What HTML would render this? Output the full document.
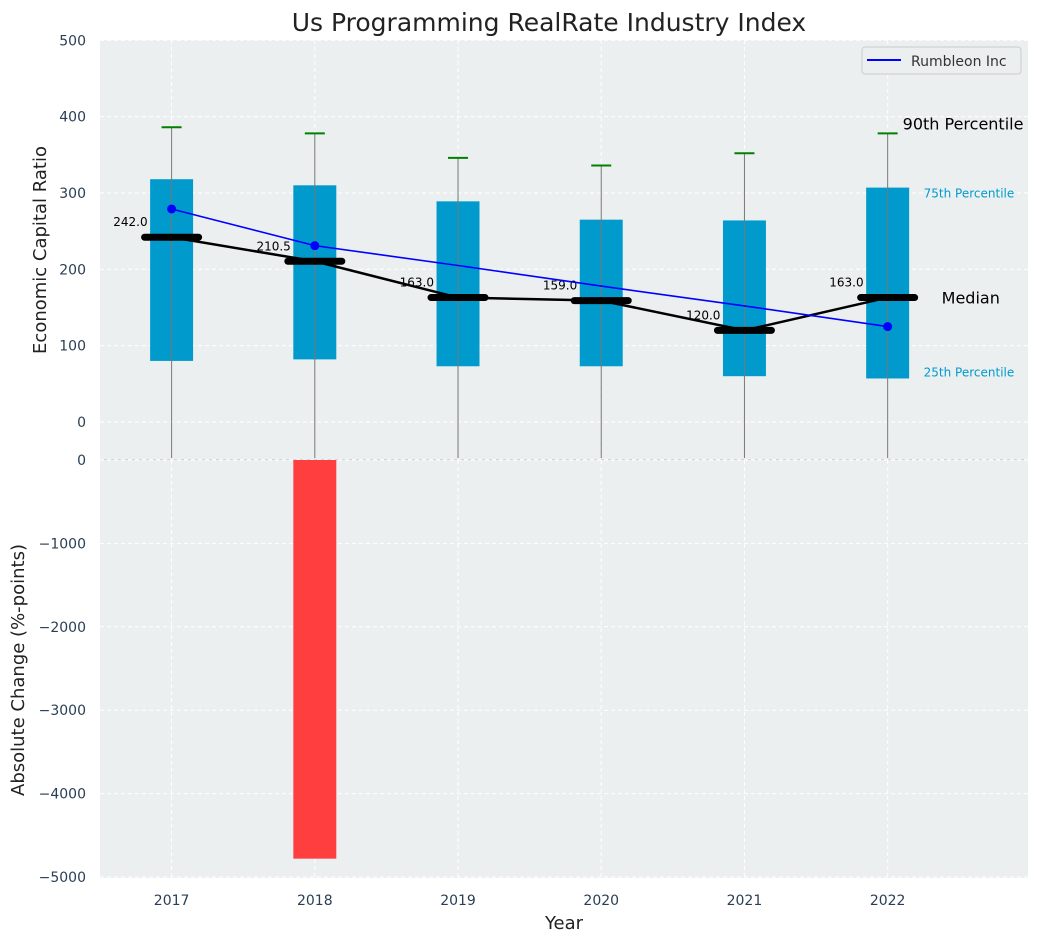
<!DOCTYPE html>
<html><head><meta charset="utf-8"><style>
body{margin:0;background:#fff;}
svg text{font-family:"DejaVu Sans","Liberation Sans",sans-serif;}
</style></head><body>
<svg id="c" width="1039" height="942" xmlns="http://www.w3.org/2000/svg">
<text x="549" y="31" font-size="25" text-anchor="middle" fill="#222">Us Programming RealRate Industry Index</text>
<g id="gtop"></g><g id="gbot"></g>
</svg>
<script>
const years=[2017,2018,2019,2020,2021,2022];
const q1=[80,82,73,73,60,57];
const q3=[318,310,289,265,264,307];
const p90=[386,378,346,336,352,378];
const medians=[242,210.5,163,159,120,163];
const company=[279,231,205,178,152,125];
const changes=[0,-4780,0,0,0,0];
const topTicks=[0,100,200,300,400,500];
const botTicks=[0,-1000,-2000,-3000,-4000,-5000];
const NS='http://www.w3.org/2000/svg';
const X0=100,X1=1028;
const xs=v=>X0+(v-2016.5)/(2022.98-2016.5)*(X1-X0);
const yt=v=>422-v*0.7635;
const yb=v=>460-v*0.0834;
function mk(p,t,a){const e=document.createElementNS(NS,t);for(const k in a)e.setAttribute(k,a[k]);p.appendChild(e);return e;}
const gTop=document.getElementById('gtop'),gBot=document.getElementById('gbot');
let r=mk(gTop,'rect',{x:X0,y:40,width:X1-X0,height:420,fill:'#ebeff0'});

r=mk(gBot,'rect',{x:X0,y:460,width:X1-X0,height:418,fill:'#ebeff0'});

years.forEach(y=>{
 mk(gTop,'line',{x1:xs(y),x2:xs(y),y1:40,y2:460,stroke:'#fff','stroke-dasharray':'4,3'});
 mk(gBot,'line',{x1:xs(y),x2:xs(y),y1:460,y2:878,stroke:'#fff','stroke-dasharray':'4,3'});
 const t=mk(gBot,'text',{x:xs(y),y:905,'font-size':14,'text-anchor':'middle',fill:'#2a3f55'});t.textContent=y;
 
});
topTicks.forEach(v=>{
 mk(gTop,'line',{x1:X0,x2:X1,y1:yt(v),y2:yt(v),stroke:'#fff','stroke-dasharray':'4,3'});
 const t=mk(gTop,'text',{x:86,y:yt(v)+5,'font-size':14,'text-anchor':'end',fill:'#2a3f55'});t.textContent=v;
 
});
botTicks.forEach(v=>{
 mk(gBot,'line',{x1:X0,x2:X1,y1:yb(v),y2:yb(v),stroke:'#fff','stroke-dasharray':'4,3'});
 const t=mk(gBot,'text',{x:86,y:yb(v)+5,'font-size':14,'text-anchor':'end',fill:'#2a3f55'});t.textContent=v===0?'0':'\u2212'+(-v);
 
});
mk(gTop,'line',{x1:X0,x2:X1,y1:460,y2:460,stroke:'#bbb'});
const bw=xs(2017.15)-xs(2017);
years.forEach((y,i)=>{
 const b=mk(gTop,'rect',{x:xs(y)-bw,y:yt(q3[i]),width:2*bw,height:yt(q1[i])-yt(q3[i]),fill:'#009acd'});
 
 const w=mk(gTop,'line',{x1:xs(y),x2:xs(y),y1:yt(p90[i]),y2:458,stroke:'#777','stroke-width':1});
 
 const c=mk(gTop,'line',{x1:xs(y)-10,x2:xs(y)+10,y1:yt(p90[i]),y2:yt(p90[i]),stroke:'green','stroke-width':2});
 
 const bar=mk(gBot,'rect',{x:xs(y)-bw,y:yb(Math.max(0,changes[i])),width:2*bw,height:Math.abs(yb(changes[i])-yb(0)),fill:'#ff3f3f'});
 
});
let pm=mk(gTop,'polyline',{points:years.map((y,i)=>xs(y)+','+yt(medians[i])).join(' '),fill:'none',stroke:'#000','stroke-width':2.5});

years.forEach((y,i)=>{
 const m=mk(gTop,'line',{x1:xs(y)-27,x2:xs(y)+27,y1:yt(medians[i]),y2:yt(medians[i]),stroke:'#000','stroke-width':7,'stroke-linecap':'round'});
 
 const t=mk(gTop,'text',{x:xs(y)-24,y:yt(medians[i])-11,'font-size':12,'text-anchor':'end',fill:'#000'});t.textContent=medians[i].toFixed(1);
 
});
let pc=mk(gTop,'polyline',{points:years.map((y,i)=>xs(y)+','+yt(company[i])).join(' '),fill:'none',stroke:'#00f','stroke-width':1.6});

[0,1,5].forEach(i=>{const d=mk(gTop,'circle',{cx:xs(years[i]),cy:yt(company[i]),r:4.5,fill:'#00f'});
 });
const L=years.length-1;
function ann(txt,x,y,sz,col,name){const t=mk(gTop,'text',{x:x,y:y,'font-size':sz,fill:col});t.textContent=txt;}
ann('90th Percentile',xs(years[L])+15,yt(p90[L])-4,16,'#000','p90-annotation');
ann('75th Percentile',xs(years[L])+36,yt(q3[L])+10,12,'#009acd','p75-annotation');
ann('Median',xs(years[L])+54,yt(medians[L])+6,16,'#000','median-annotation');
ann('25th Percentile',xs(years[L])+36,yt(q1[L])-2,12,'#009acd','p25-annotation');
const lg=mk(gTop,'g',{});
mk(lg,'rect',{x:862,y:47,width:159,height:27,rx:3,fill:'#ebeff0',stroke:'#ccc'});
mk(lg,'line',{x1:867,x2:901,y1:60,y2:60,stroke:'#00f','stroke-width':2});
const lt=mk(lg,'text',{x:911,y:66,'font-size':14,fill:'#333'});lt.textContent='Rumbleon Inc';
let t=mk(gTop,'text',{x:0,y:0,'font-size':18,'text-anchor':'middle',fill:'#222',transform:'translate(46,250) rotate(-90)'});t.textContent='Economic Capital Ratio';

t=mk(gBot,'text',{x:0,y:0,'font-size':18,'text-anchor':'middle',fill:'#222',transform:'translate(24,670) rotate(-90)'});t.textContent='Absolute Change (%-points)';

t=mk(gBot,'text',{x:564,y:929,'font-size':18,'text-anchor':'middle',fill:'#222'});t.textContent='Year';

</script>
</body></html>
